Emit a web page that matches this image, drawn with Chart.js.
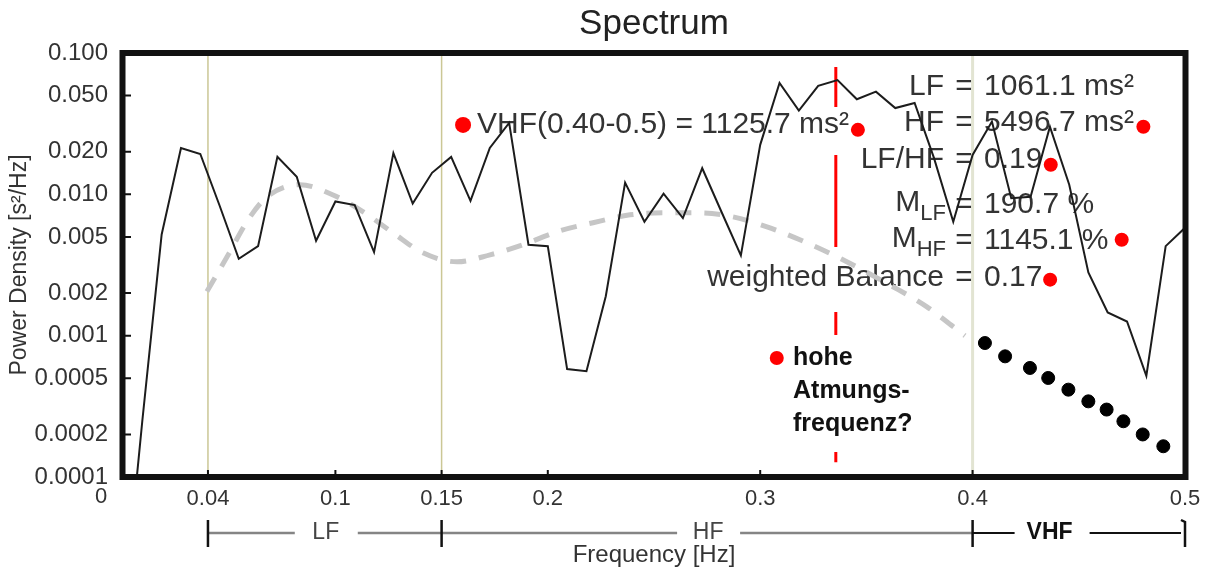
<!DOCTYPE html>
<html>
<head>
<meta charset="utf-8">
<script src="https://cdn.jsdelivr.net/npm/chart.js@4.4.0/dist/chart.umd.min.js"></script>
<style>
  html, body { margin: 0; padding: 0; background: #fff; }
</style>
</head>
<body>
<canvas id="spectrum" width="1213" height="574"></canvas>
<script>
const FONT = '"Liberation Sans", Arial, sans-serif';

// Spektrum (Frequenz in Hz, Leistungsdichte in s²/Hz)
const frecuencias = [0, 0.0091, 0.0182, 0.0273, 0.0364, 0.0455, 0.0545, 0.0636, 0.0727, 0.0818,
  0.0909, 0.1, 0.1091, 0.1182, 0.1273, 0.1364, 0.1455, 0.1545, 0.1636, 0.1727,
  0.1818, 0.1909, 0.2, 0.2091, 0.2182, 0.2273, 0.2364, 0.2455, 0.2545, 0.2636,
  0.2727, 0.2818, 0.2909, 0.3, 0.3091, 0.3182, 0.3273, 0.3364, 0.3455, 0.3545,
  0.3636, 0.3727, 0.3818, 0.3909, 0.4, 0.4091, 0.4182, 0.4273, 0.4364, 0.4455,
  0.4545, 0.4636, 0.4727, 0.4818, 0.4909, 0.5];
const potencia = [0.00001, 0.00025, 0.0052, 0.0213, 0.0193, 0.0083, 0.0035, 0.0043, 0.0184, 0.0133,
  0.0047, 0.0089, 0.0084, 0.0039, 0.0196, 0.0086, 0.0142, 0.0184, 0.0090, 0.0213,
  0.0320, 0.0044, 0.0043, 0.00058, 0.00056, 0.0019, 0.0121, 0.0064, 0.0101, 0.0068,
  0.0153, 0.0075, 0.0037, 0.0224, 0.0614, 0.0391, 0.0585, 0.0644, 0.0471, 0.0533,
  0.0408, 0.0443, 0.0181, 0.0064, 0.0190, 0.0327, 0.0094, 0.0096, 0.0301, 0.0117,
  0.0028, 0.00146, 0.00126, 0.00052, 0.0043, 0.0058];

// graue Trendkurve
const tendFrec = [0.0395, 0.049, 0.0589, 0.0678, 0.0833, 0.0989, 0.1116, 0.1271, 0.1412, 0.1573,
  0.1728, 0.1883, 0.2057, 0.2213, 0.2387, 0.2542, 0.2717, 0.2872, 0.3032, 0.3187,
  0.3362, 0.3625, 0.3785, 0.3908, 0.3964];
const tendPot = [0.00205, 0.00361, 0.0066, 0.0096, 0.0117, 0.0099, 0.00777, 0.00535, 0.00386, 0.00333,
  0.00373, 0.0044, 0.00552, 0.0063, 0.00716, 0.0074, 0.0074, 0.00693, 0.00589, 0.00477,
  0.00361, 0.00222, 0.0016, 0.00116, 0.001];

// schwarze Punkte im VHF-Band
const vhfFrec = [0.4058, 0.4153, 0.4270, 0.4356, 0.4451, 0.4545, 0.4631, 0.4710, 0.4801, 0.4898];
const vhfPot = [0.000887, 0.000714, 0.000591, 0.000502, 0.000415, 0.000343, 0.0003, 0.000248, 0.0002, 0.000165];

// rote Markierungen
const rojoFrec = [0.1601, 0.3460, 0.4804, 0.4368, 0.4702, 0.4365, 0.3078];
const rojoPot = [0.0310, 0.0286, 0.0301, 0.0162, 0.00477, 0.00249, 0.000695];

// rote gestrichelte Linie (Atemfrequenz)
const lineaRojaFrec = 0.3356;
const lineaRojaPot = [0.0796, 0.000127];

// Bandgrenzen
const bandas = [0.04, 0.15, 0.4, 0.5];
const nombresBandas = ['LF', 'HF', 'VHF'];

const xTicks = [0, 0.04, 0.1, 0.15, 0.2, 0.3, 0.4, 0.5];
const yTicks = [0.0001, 0.0002, 0.0005, 0.001, 0.002, 0.005, 0.01, 0.02, 0.05, 0.1];

// Textwerte rechts oben
const etiquetas = ['LF', 'HF', 'LF/HF', 'M', 'M', 'weighted Balance'];
const subIndices = ['', '', '', 'LF', 'HF', ''];
const valores = ['1061.1 ms²', '5496.7 ms²', '0.19', '190.7 %', '1145.1 %', '0.17'];

const pares = (xs, ys) => xs.map((x, i) => ({ x: x, y: ys[i] }));
const vertical = (f, a, b) => [{ x: f, y: a }, { x: f, y: b }];

const IDX_ROJA = 4;

const anotaciones = {
  id: 'anotaciones',
  afterDatasetDraw(chart, args) {
    if (args.index !== IDX_ROJA) return;
    const c = chart.ctx;
    c.save();
    // weisse Hintergruende der Texte
    c.fillStyle = '#fff';
    c.font = '30px ' + FONT;
    const txtVhf = 'VHF(0.40-0.5) = 1125.7 ms²';
    const wv = c.measureText(txtVhf).width;
    c.fillRect(475, 107, wv + 4, 48);
    c.fillRect(690, 247, 360, 65);
    c.fillRect(788, 335, 145, 117);

    c.fillStyle = '#333';
    c.textBaseline = 'middle';
    c.textAlign = 'left';
    c.fillText(txtVhf, 477, 125);

    const filasY = [87, 123, 160, 205, 241, 278];
    etiquetas.forEach((t, i) => {
      const y = filasY[i];
      c.font = '30px ' + FONT;
      c.textAlign = 'right';
      if (subIndices[i]) {
        c.font = '22px ' + FONT;
        const ws = c.measureText(subIndices[i]).width;
        c.fillText(subIndices[i], 946, y + 9);
        c.font = '30px ' + FONT;
        c.fillText(t, 946 - ws, y - 2);
      } else {
        c.fillText(t, 944, y);
      }
      c.textAlign = 'center';
      c.fillText('=', 964, y);
      c.textAlign = 'left';
      c.fillText(valores[i], 984, y);
    });

    c.fillStyle = '#111';
    c.font = 'bold 25px ' + FONT;
    c.fillText('hohe', 793, 358);
    c.fillText('Atmungs-', 793, 391);
    c.fillText('frequenz?', 793, 424);
    c.restore();
  },
  afterDraw(chart) {
    const c = chart.ctx;
    const a = chart.chartArea;
    const sx = chart.scales.x, sy = chart.scales.y;
    c.save();
    // Rahmen
    c.strokeStyle = '#111';
    c.lineWidth = 6;
    c.strokeRect(a.left - 0.5, a.top, a.right - a.left + 1, a.bottom - a.top);
    // innere Teilstriche
    c.lineWidth = 2;
    c.beginPath();
    sy.ticks.forEach(t => {
      const p = sy.getPixelForValue(t.value);
      c.moveTo(a.left, p); c.lineTo(a.left + 8, p);
    });
    sx.ticks.forEach(t => {
      const p = sx.getPixelForValue(t.value);
      c.moveTo(p, a.bottom); c.lineTo(p, a.bottom - 7);
    });
    c.stroke();

    // Titel
    c.fillStyle = '#222';
    c.font = '35px ' + FONT;
    c.textAlign = 'center';
    c.textBaseline = 'middle';
    c.fillText('Spectrum', (a.left + a.right) / 2, 24);

    // Null-Beschriftung der x-Achse
    c.fillStyle = '#333';
    c.font = '22px ' + FONT;
    c.fillText('0', 101, 497);

    // Bandleiste
    const yb = 533;
    const px = bandas.map(v => sx.getPixelForValue(v));
    c.strokeStyle = '#858585';
    c.lineWidth = 2.5;
    c.beginPath();
    for (let i = 0; i < 2; i++) {
      const mid = (px[i] + px[i + 1]) / 2;
      c.moveTo(px[i], yb); c.lineTo(mid - 30, yb);
      c.moveTo(mid + 33, yb); c.lineTo(px[i + 1], yb);
    }
    c.stroke();
    c.fillStyle = '#444';
    c.font = '23px ' + FONT;
    for (let i = 0; i < 2; i++) {
      c.fillText(nombresBandas[i], (px[i] + px[i + 1]) / 2 + 1, yb);
    }
    // VHF
    c.strokeStyle = '#111';
    c.lineWidth = 2;
    c.beginPath();
    c.moveTo(px[2], yb); c.lineTo(px[2] + 42, yb);
    c.moveTo(px[2] + 117, yb); c.lineTo(px[3] - 4, yb);
    c.stroke();
    c.fillStyle = '#111';
    c.font = 'bold 23px ' + FONT;
    c.fillText(nombresBandas[2], px[2] + 77, yb);
    // Grenzstriche
    c.lineWidth = 2.5;
    c.beginPath();
    for (let i = 0; i < 3; i++) {
      c.moveTo(px[i], yb - 13); c.lineTo(px[i], yb + 14);
    }
    c.moveTo(px[3] - 4, yb - 13); c.lineTo(px[3], yb - 11); c.lineTo(px[3], yb + 14);
    c.stroke();
    c.restore();
  }
};

const guia = (f, color, w) => ({
  data: vertical(f, 0.0001, 0.1),
  borderColor: color, borderWidth: w, pointRadius: 0, order: 5
});

new Chart(document.getElementById('spectrum').getContext('2d'), {
  type: 'line',
  data: {
    datasets: [
      { // 0 Spektrum
        data: pares(frecuencias, potencia),
        borderColor: '#1c1c1c', borderWidth: 2, pointRadius: 0, tension: 0, order: 1
      },
      { // 1 Trend
        data: pares(tendFrec, tendPot),
        borderColor: '#c6c6c6', borderWidth: 5, borderDash: [16, 13],
        pointRadius: 0, cubicInterpolationMode: 'monotone', order: 3
      },
      { // 2 VHF-Punkte
        data: pares(vhfFrec, vhfPot),
        showLine: false, pointRadius: 6.5, pointBackgroundColor: '#000', pointBorderColor: '#000', order: 0
      },
      { // 3 rote Punkte
        data: pares(rojoFrec, rojoPot),
        showLine: false, pointRadius: [8, 7, 7, 7, 7, 7, 7], pointBorderWidth: 0,
        pointBackgroundColor: '#ff0000', pointBorderColor: '#ff0000', order: 0
      },
      { // 4 rote Linie
        data: vertical(lineaRojaFrec, lineaRojaPot[0], lineaRojaPot[1]),
        borderColor: '#ff0000', borderWidth: 3, pointRadius: 0, order: 10
      },
      guia(bandas[0], '#cbc795', 1.5),
      guia(bandas[1], '#cbc795', 1.5),
      guia(bandas[2], '#e2e4d2', 3)
    ]
  },
  options: {
    responsive: false,
    animation: false,
    devicePixelRatio: 1,
    layout: { padding: { left: 0, right: 28, top: 53, bottom: 0 } },
    plugins: { legend: { display: false }, tooltip: { enabled: false }, title: { display: false } },
    scales: {
      x: {
        type: 'linear', min: 0, max: 0.5,
        afterBuildTicks: s => { s.ticks = xTicks.map(v => ({ value: v })); },
        afterFit: s => { s.height = 97; },
        grid: { display: false, drawTicks: false },
        border: { display: false },
        ticks: {
          padding: 9, maxRotation: 0, autoSkip: false, color: '#333',
          font: { size: 22, family: FONT },
          callback: v => v === 0 ? '' : String(v)
        },
        title: {
          display: true, text: 'Frequency [Hz]', color: '#333',
          font: { size: 24, family: FONT }, padding: { top: 0, bottom: 4 }
        }
      },
      y: {
        type: 'logarithmic', min: 0.0001, max: 0.1,
        afterBuildTicks: s => { s.ticks = yTicks.map(v => ({ value: v })); },
        afterFit: s => { s.width = 123; },
        grid: { display: false, drawTicks: false },
        border: { display: false },
        ticks: {
          padding: 15, color: '#333', font: { size: 24, family: FONT },
          callback: v => v >= 0.001 ? v.toFixed(3) : v.toFixed(4)
        },
        title: {
          display: true, text: 'Power Density [s²/Hz]', color: '#333',
          font: { size: 23, family: FONT }, padding: { top: 6, bottom: 0 }
        }
      }
    }
  },
  plugins: [anotaciones]
});
</script>
</body>
</html>
